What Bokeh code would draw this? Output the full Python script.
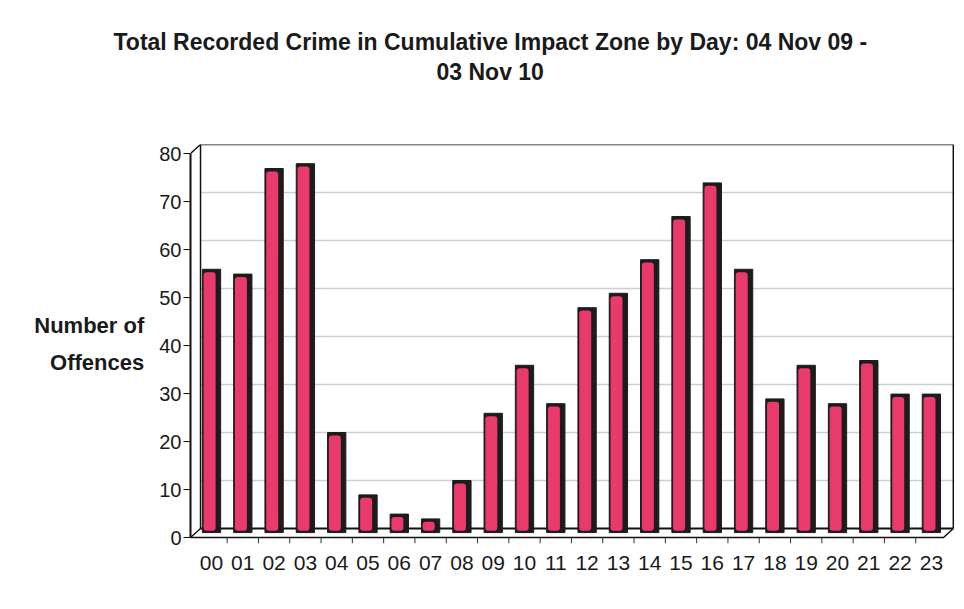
from bokeh.plotting import figure
from bokeh.layouts import column
from bokeh.models import (ColumnDataSource, Range1d, LinearAxis, FixedTicker, Title)
from bokeh.transform import dodge
from bokeh.embed import file_html
from bokeh.resources import INLINE

# ---- data ----
hours = ["00", "01", "02", "03", "04", "05", "06", "07", "08", "09", "10", "11",
         "12", "13", "14", "15", "16", "17", "18", "19", "20", "21", "22", "23"]
offences = [54, 53, 75, 76, 20, 7, 3, 2, 10, 24, 34, 26,
            46, 49, 56, 65, 72, 54, 27, 34, 26, 35, 28, 28]
y_ticks = [0, 10, 20, 30, 40, 50, 60, 70, 80]
title_line1 = "Total Recorded Crime in Cumulative Impact Zone by Day: 04 Nov 09 -"
title_line2 = "03 Nov 10"
y_label = "Number of\nOffences"

FONT = "Liberation Sans"
PINK = "#ea3a6b"
DARK = "#1c1c1c"
TEXT = "#1a1a1a"

# ---- layout constants ----
W = 964
TITLE_H = 140
MAIN_H = 609 - TITLE_H
LEFT_B, RIGHT_B = 190, 10
X_START, X_END = -0.671, 23.738
Y_START, Y_END = -3.125, 80.0
BACK_LEFT = -0.351
BACK_RIGHT = 23.70
FRONT_FLOOR = -1.875
FRONT_RIGHT = 23.39
DEPTH_Y = 1.875

# ---- title strip: an empty canvas whose titles hold the two heading lines ----
tfig = figure(width=W, height=TITLE_H, output_backend="svg", toolbar_location=None,
              x_range=Range1d(0, 1), y_range=Range1d(0, 1),
              x_axis_location=None, y_axis_location=None,
              min_border_left=LEFT_B, min_border_right=RIGHT_B,
              min_border_top=86, min_border_bottom=0)
tfig.outline_line_color = None
tfig.xgrid.visible = False
tfig.ygrid.visible = False
tfig.title.text = title_line1
tfig.title.align = "left"
tfig.title.offset = -77
tfig.title.text_font = FONT
tfig.title.text_font_style = "bold"
tfig.title.text_font_size = "23px"
tfig.title.text_color = TEXT
tfig.title.standoff = 0
t2 = Title(text=title_line2, align="left", offset=246, text_font=FONT,
           text_font_style="bold", text_font_size="23px", text_color=TEXT, standoff=4)
tfig.add_layout(t2, "above")

# ---- main chart ----
idx = list(range(len(hours)))
src = ColumnDataSource(dict(
    x=idx,
    top=offences,
    pink_top=[v - 0.6 for v in offences],
))

p = figure(width=W, height=MAIN_H, output_backend="svg", toolbar_location=None,
           x_range=Range1d(X_START, X_END), y_range=Range1d(Y_START, Y_END),
           x_axis_location=None, y_axis_location=None,
           min_border_left=LEFT_B, min_border_right=RIGHT_B, min_border_top=144 - TITLE_H,
           min_border_bottom=66)
p.extra_y_ranges = {"front": Range1d(-1.25, 81.875)}
p.outline_line_color = None
p.xgrid.visible = False
p.ygrid.visible = False
p.background_fill_color = "white"
p.border_fill_color = "white"

# back wall grid lines
for v in y_ticks[1:-1]:
    p.line([BACK_LEFT, BACK_RIGHT], [v, v], line_color="#cfcfcf", line_width=1.5)

# back wall / floor / side wall edges
edge = dict(line_color="#111111", line_width=1.5)
p.line([BACK_LEFT, BACK_RIGHT], [Y_END, Y_END], **edge)
p.line([BACK_RIGHT, BACK_RIGHT], [0, Y_END], **edge)
p.line([BACK_LEFT, BACK_LEFT], [0, Y_END], **edge)
p.line([BACK_LEFT, BACK_RIGHT], [0, 0], line_color="#111111", line_width=2)
p.line([X_START, BACK_LEFT], [Y_END - DEPTH_Y, Y_END], **edge)
p.line([X_START, BACK_LEFT], [FRONT_FLOOR, 0], **edge)
p.line([X_START, FRONT_RIGHT, BACK_RIGHT], [FRONT_FLOOR, FRONT_FLOOR, 0], **edge)

# floor tick marks between categories
for i in idx[:-1]:
    p.line([i + 0.5, i + 0.5], [FRONT_FLOOR, Y_START], line_color="#333333", line_width=1)

# bars: dark body (outline + shaded side) and pink face
p.vbar(x="x", width=0.585, top="top", bottom=-0.85, source=src,
       fill_color=DARK, line_color=DARK, line_width=1)
p.vbar(x=dodge("x", -0.06, range=p.x_range), width=0.383, top="pink_top", bottom=-0.45,
       source=src, fill_color=PINK, line_color=None, border_radius=3)

# axes
yaxis = LinearAxis(y_range_name="front", ticker=FixedTicker(ticks=y_ticks), bounds=(0, 80))
yaxis.axis_line_width = 2
yaxis.axis_line_color = "#111111"
yaxis.major_tick_out = 7
yaxis.major_tick_in = 0
yaxis.major_tick_line_color = "#111111"
yaxis.minor_tick_line_color = None
yaxis.major_label_standoff = 2
yaxis.major_label_text_font = FONT
yaxis.major_label_text_font_size = "20px"
yaxis.major_label_text_color = TEXT
yaxis.axis_label = y_label
yaxis.axis_label_text_font = FONT
yaxis.axis_label_text_font_style = "bold"
yaxis.axis_label_text_font_size = "22px"
yaxis.axis_label_text_color = TEXT
yaxis.axis_label_text_line_height = 1.5
yaxis.axis_label_standoff = 12
try:
    yaxis.axis_label_orientation = "horizontal"
except Exception:
    pass
p.add_layout(yaxis, "left")

xaxis = LinearAxis(ticker=FixedTicker(ticks=idx),
                   major_label_overrides={i: h for i, h in zip(idx, hours)})
xaxis.axis_line_color = None
xaxis.major_tick_line_color = None
xaxis.minor_tick_line_color = None
xaxis.major_label_standoff = 6
xaxis.major_label_text_font = FONT
xaxis.major_label_text_font_size = "21px"
xaxis.major_label_text_color = TEXT
p.add_layout(xaxis, "below")

layout = column(tfig, p, spacing=0)
open("out.html", "w").write(file_html(layout, INLINE))
